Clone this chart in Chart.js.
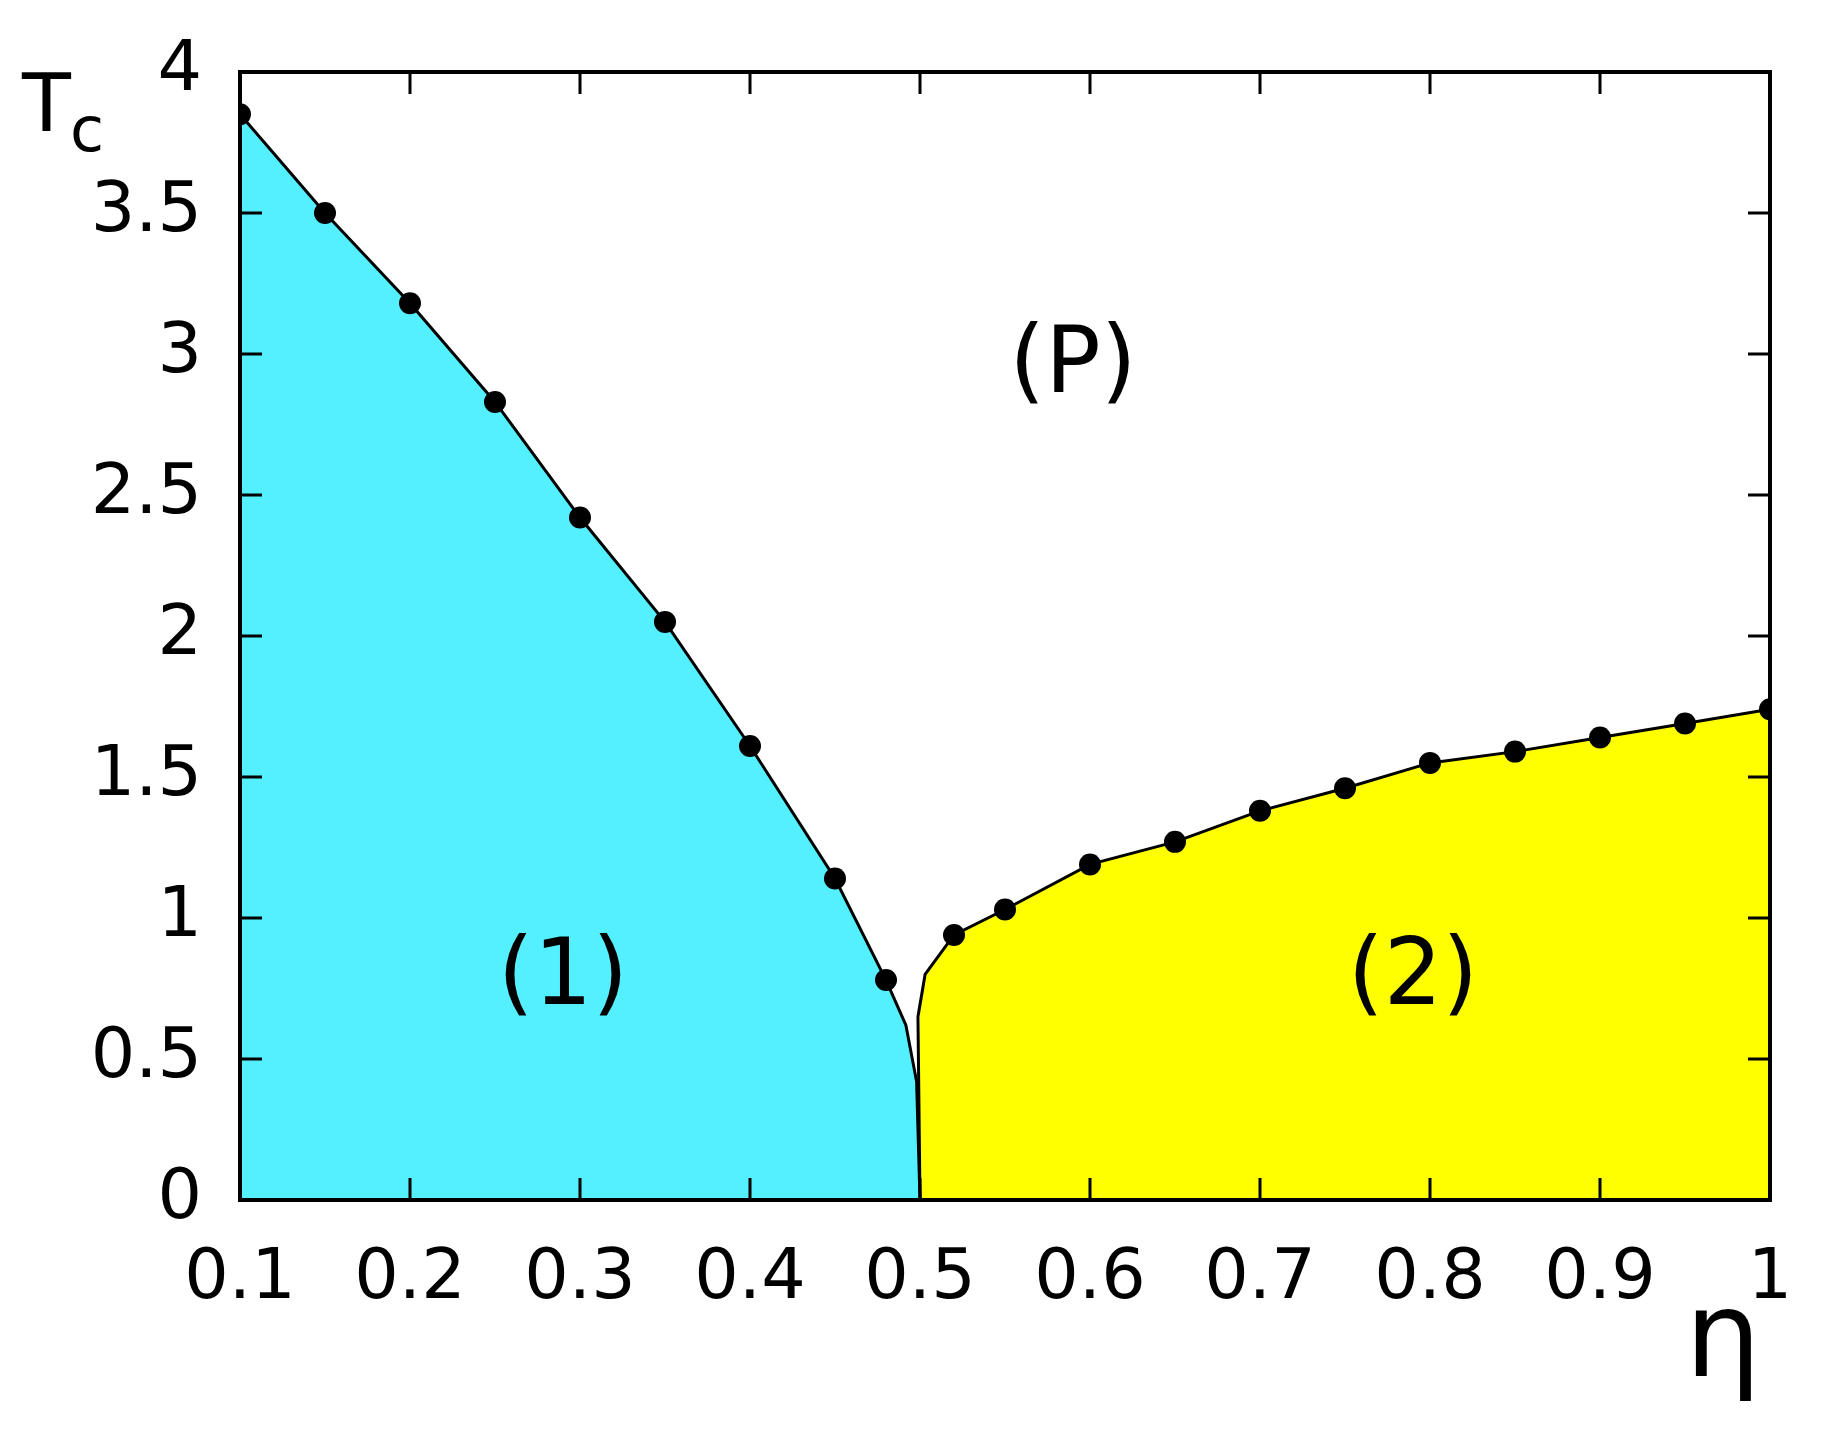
<!DOCTYPE html>
<html>
<head>
<meta charset="utf-8">
<script src="https://cdn.jsdelivr.net/npm/chart.js@4/dist/chart.umd.min.js"></script>
<style>
  html, body { margin: 0; padding: 0; background: #fff; }
  #wrap { width: 1833px; height: 1437px; }
</style>
</head>
<body>
<div id="wrap"><canvas id="chart"></canvas></div>
<script>
// phase boundary (1): markers
const etaLeft = [0.1, 0.15, 0.2, 0.25, 0.3, 0.35, 0.4, 0.45, 0.48];
const tcLeft = [3.85, 3.5, 3.18, 2.83, 2.42, 2.05, 1.61, 1.14, 0.78];
// extra line points without markers, down to zero
const etaLeftTail = [0.4917, 0.498, 0.5];
const tcLeftTail = [0.62, 0.42, 0];

// phase boundary (2)
const etaRightHead = [0.5, 0.4988, 0.503];
const tcRightHead = [0, 0.65, 0.8];
const etaRight = [0.52, 0.55, 0.6, 0.65, 0.7, 0.75, 0.8, 0.85, 0.9, 0.95, 1.0];
const tcRight = [0.94, 1.03, 1.19, 1.27, 1.38, 1.46, 1.55, 1.59, 1.64, 1.69, 1.74];

const xTicks = [0.1, 0.2, 0.3, 0.4, 0.5, 0.6, 0.7, 0.8, 0.9, 1];
const yTicks = [0, 0.5, 1, 1.5, 2, 2.5, 3, 3.5, 4];

function pts(xs, ys) {
  return xs.map(function (x, i) { return { x: x, y: ys[i] }; });
}

const font = 'DejaVu Sans';

const frame = {
  id: 'frame',
  afterDatasetsDraw: function (chart) {
    const ctx = chart.ctx;
    const a = chart.chartArea;
    const xs = chart.scales.x, ys = chart.scales.y;
    const len = 22;
    ctx.save();
    ctx.strokeStyle = '#000';
    ctx.lineWidth = 3;
    ctx.beginPath();
    xTicks.forEach(function (v) {
      const p = xs.getPixelForValue(v);
      ctx.moveTo(p, a.bottom); ctx.lineTo(p, a.bottom - len);
      ctx.moveTo(p, a.top); ctx.lineTo(p, a.top + len);
    });
    yTicks.forEach(function (v) {
      const p = ys.getPixelForValue(v);
      ctx.moveTo(a.left, p); ctx.lineTo(a.left + len, p);
      ctx.moveTo(a.right, p); ctx.lineTo(a.right - len, p);
    });
    ctx.stroke();
    ctx.lineWidth = 4;
    ctx.strokeRect(a.left, a.top, a.right - a.left, a.bottom - a.top);

    ctx.fillStyle = '#000';
    ctx.textAlign = 'center';
    ctx.textBaseline = 'middle';
    ctx.font = '92px ' + font;
    ctx.fillText('(P)', xs.getPixelForValue(0.59), ys.getPixelForValue(2.95));
    ctx.fillText('(1)', xs.getPixelForValue(0.29), ys.getPixelForValue(0.78));
    ctx.fillText('(2)', xs.getPixelForValue(0.79), ys.getPixelForValue(0.78));

    ctx.textAlign = 'left';
    ctx.font = '80px ' + font;
    ctx.fillText('T', 22, 110);
    ctx.font = '62px ' + font;
    ctx.fillText('c', 70, 135);
    ctx.font = '120px ' + font;
    ctx.fillText('\u03b7', 1685, 1345);
    ctx.restore();
  }
};

new Chart(document.getElementById('chart'), {
  type: 'scatter',
  data: {
    datasets: [
      {
        data: pts(etaLeft.concat(etaLeftTail), tcLeft.concat(tcLeftTail)),
        showLine: true,
        fill: 'origin',
        backgroundColor: '#55f0ff',
        borderColor: '#000',
        borderWidth: 3,
        pointRadius: etaLeft.map(function () { return 11; }).concat([0, 0, 0]),
        pointBackgroundColor: '#000',
        pointBorderWidth: 0
      },
      {
        data: pts(etaRightHead.concat(etaRight), tcRightHead.concat(tcRight)),
        showLine: true,
        fill: 'origin',
        backgroundColor: '#ffff00',
        borderColor: '#000',
        borderWidth: 3,
        pointRadius: [0, 0, 0].concat(etaRight.map(function () { return 11; })),
        pointBackgroundColor: '#000',
        pointBorderWidth: 0
      }
    ]
  },
  options: {
    responsive: true,
    maintainAspectRatio: false,
    animation: false,
    layout: { padding: { top: 55, right: 63, left: 0, bottom: 0 } },
    plugins: { legend: { display: false }, tooltip: { enabled: false } },
    scales: {
      x: {
        type: 'linear',
        min: 0.1, max: 1,
        afterBuildTicks: function (s) { s.ticks = xTicks.map(function (v) { return { value: v }; }); },
        afterFit: function (s) { s.height = 237; },
        grid: { display: false },
        border: { display: false },
        ticks: {
          color: '#000', padding: 30,
          font: { family: font, size: 70 },
          callback: function (v) { return String(v); }
        }
      },
      y: {
        type: 'linear',
        min: 0, max: 4,
        afterBuildTicks: function (s) { s.ticks = yTicks.map(function (v) { return { value: v }; }); },
        afterFit: function (s) { s.width = 240; },
        grid: { display: false },
        border: { display: false },
        ticks: {
          color: '#000', padding: 30,
          font: { family: font, size: 70 },
          callback: function (v) { return String(v); }
        }
      }
    }
  },
  plugins: [frame]
});
</script>
</body>
</html>
